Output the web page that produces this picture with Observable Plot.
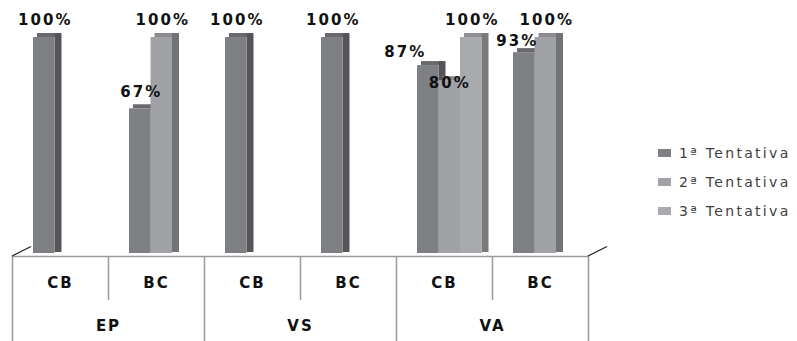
<!DOCTYPE html>
<html>
<head>
<meta charset="utf-8">
<script src="https://cdn.jsdelivr.net/npm/d3@7"></script>
<script src="https://cdn.jsdelivr.net/npm/@observablehq/plot@0.6"></script>
<style>
  html, body { margin: 0; padding: 0; background: #ffffff; }
  #wrap { position: relative; width: 797px; height: 341px; overflow: hidden; }
  #legend { position: absolute; left: 658px; top: 0; font-family: "DejaVu Sans", sans-serif; font-size: 14px; letter-spacing: 2.3px; color: #404040; }
  .item { position: absolute; left: 0; height: 20px; white-space: nowrap; display: flex; align-items: center; }
  .sw { width: 13px; height: 8px; margin-right: 8px; }
</style>
</head>
<body>
<div id="wrap"><div id="legend"></div></div>
<script>
// ---- data ----
const groups = ["EP", "EP", "VS", "VS", "VA", "VA"];
const subs = ["CB", "BC", "CB", "BC", "CB", "BC"];
const seriesNames = ["1ª Tentativa", "2ª Tentativa", "3ª Tentativa"];
const t1 = [100, 67, 100, 100, 87, 93];
const t2 = [null, 100, null, null, 80, 100];
const t3 = [null, null, null, null, 100, null];
const seriesValues = [t1, t2, t3];

// ---- styles ----
const frontColors = ["#7f8083", "#a1a2a5", "#a9aaad"];
const sideColors = ["#54565a", "#727376", "#797a7d"];
const topColors = ["#68696c", "#8b8c8f", "#909194"];

const W = 797, H = 341, ML = 12, MR = 209, MT = 37, MB = 88;
const bw = (W - ML - MR) / subs.length;
const off0 = 21, barW = 21.5, sideW = 7, depth = 4;

const keys = subs.map((s, i) => groups[i] + " " + s);
const rows = [];
seriesValues.forEach((vals, s) => vals.forEach((v, i) => {
  if (v != null) rows.push({key: keys[i], group: groups[i], sub: subs[i], s, value: v});
}));

const marks = [];
// floor line and table
marks.push(Plot.ruleY([0], {dy: 3, stroke: "#9a9a9a", strokeWidth: 1.5}));
const cbKeys = keys.filter((k, i) => subs[i] === "CB");
const bcKeys = keys.filter((k, i) => subs[i] === "BC");
marks.push(Plot.ruleX(bcKeys, {x: d => d, y1: 0, y2: 0, dx: -bw / 2, insetTop: 3, insetBottom: -47, stroke: "#9a9a9a", strokeWidth: 1.5}));
marks.push(Plot.ruleX(cbKeys, {x: d => d, y1: 0, y2: 0, dx: -bw / 2, insetTop: 3, insetBottom: -MB, stroke: "#9a9a9a", strokeWidth: 1.5}));
marks.push(Plot.ruleX([keys[keys.length - 1]], {x: d => d, y1: 0, y2: 0, dx: bw / 2, insetTop: 3, insetBottom: -MB, stroke: "#9a9a9a", strokeWidth: 1.5}));
// 3D depth edges of the floor
marks.push((index, scales, values, dim) => {
  const y0 = (scales && typeof scales.y === "function" ? scales.y(0) : dim.height - dim.marginBottom) + 3;
  const xl = dim.marginLeft, xr = dim.width - dim.marginRight;
  const g = d3.create("svg:g").attr("stroke", "#262626").attr("stroke-width", 1.3);
  g.append("line").attr("x1", xl).attr("y1", y0).attr("x2", xl + 19).attr("y2", y0 - 9.5);
  g.append("line").attr("x1", xr).attr("y1", y0).attr("x2", xr + 19).attr("y2", y0 - 9.5);
  return g.node();
});

// bars (top face, side face, front face) per series
for (let s = 0; s < 3; s++) {
  const data = rows.filter(d => d.s === s);
  const L = off0 + barW * s, R = L + barW;
  marks.push(Plot.barY(data, {x: "key", y1: "value", y2: "value", insetTop: -depth, insetBottom: 0,
    insetLeft: L + depth, insetRight: bw - R - depth, fill: topColors[s]}));
  marks.push(Plot.barY(data, {x: "key", y1: 0, y2: "value", insetTop: -depth, insetBottom: 1,
    insetLeft: R, insetRight: bw - R - sideW, fill: sideColors[s]}));
  marks.push(Plot.barY(data, {x: "key", y1: 0, y2: "value", insetLeft: L, insetRight: bw - R, fill: frontColors[s]}));
}

// value labels
const labelFont = {fontFamily: "DejaVu Sans", fontSize: 15, fontWeight: "bold", fill: "#111"};
const special = (d) => (d.key === "VA CB" && d.s < 2) || (d.key === "VA BC" && d.s === 0);
for (let s = 0; s < 3; s++) {
  const data = rows.filter(d => d.s === s && !special(d));
  marks.push(Plot.text(data, {x: "key", y: "value", text: d => d.value + "%", dx: off0 + barW * s + barW / 2 - bw / 2 + 1, dy: -17, ...labelFont}));
}
const lab = (key, s, ddx, ddy) => Plot.text(rows.filter(d => d.key === key && d.s === s),
  {x: "key", y: "value", text: d => d.value + "%", dx: off0 + barW * s + barW / 2 - bw / 2 + ddx, dy: ddy, ...labelFont});
marks.push(lab("VA CB", 0, -23, -13));
marks.push(lab("VA CB", 1, 0, 2));
marks.push(lab("VA BC", 0, -7, -11));

// category labels
const catFont = {fontFamily: "DejaVu Sans", fontSize: 15, fontWeight: "bold", fill: "#111"};
marks.push(Plot.text(keys, {x: d => d, y: 0, text: (d, i) => subs[i], dy: 30, ...catFont}));
marks.push(Plot.text(cbKeys, {x: d => d, y: 0, text: d => d.split(" ")[0], dx: bw / 2, dy: 73, ...catFont}));

const chart = Plot.plot({
  width: W, height: H,
  marginLeft: ML, marginRight: MR, marginTop: MT, marginBottom: MB,
  style: {fontFamily: "DejaVu Sans", letterSpacing: "2px", background: "transparent", overflow: "visible"},
  x: {type: "band", domain: keys, padding: 0, axis: null},
  y: {domain: [0, 100], axis: null},
  marks
});
document.getElementById("wrap").prepend(chart);

// legend
const legendY = [152.5, 181.5, 210.5];
const legend = d3.select("#legend");
seriesNames.forEach((name, s) => {
  const it = legend.append("div").attr("class", "item").style("top", (legendY[s] - 10) + "px");
  it.append("div").attr("class", "sw").style("background", frontColors[s]);
  it.append("span").text(name);
});
</script>
</body>
</html>
